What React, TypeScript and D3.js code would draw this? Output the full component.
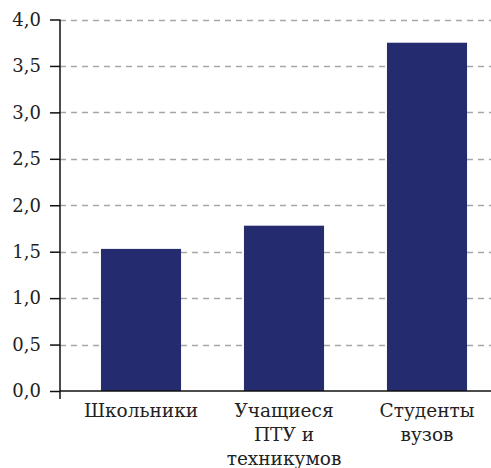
import React, { useEffect, useRef } from 'react';
import * as d3 from 'd3';

const categories = ['Школьники', 'Учащиеся ПТУ и техникумов', 'Студенты вузов'];
const categoryLines = [['Школьники'], ['Учащиеся', 'ПТУ и', 'техникумов'], ['Студенты', 'вузов']];
const values = [1.53, 1.78, 3.75];
const yTicks = [0, 0.5, 1, 1.5, 2, 2.5, 3, 3.5, 4];

export default function App() {
  const svgRef = useRef<SVGSVGElement | null>(null);

  useEffect(() => {
    document.body.style.margin = '0';
    const width = 491;
    const height = 468;
    const axisX = 60;
    const serif = '"DejaVu Serif", serif';

    const svg = d3.select(svgRef.current)
      .attr('width', width)
      .attr('height', height)
      .style('display', 'block')
      .style('background', '#fff');

    svg.selectAll('*').remove();

    const y = d3.scaleLinear()
      .domain([0, 4])
      .range([391, 19.5]);

    const x = d3.scaleBand()
      .domain(categories)
      .range([69.5, 498.5])
      .paddingInner(0.44)
      .paddingOuter(0.22);

    // grid lines
    svg.append('g')
      .selectAll('line')
      .data(yTicks.filter(t => t > 0))
      .join('line')
      .attr('x1', axisX)
      .attr('x2', width)
      .attr('y1', d => Math.round(y(d)) + 0.5)
      .attr('y2', d => Math.round(y(d)) + 0.5)
      .attr('stroke', '#a6a6a6')
      .attr('stroke-width', 1.3)
      .attr('stroke-dasharray', '6,5');

    // bars
    svg.append('g')
      .selectAll('rect')
      .data(values)
      .join('rect')
      .attr('x', (d, i) => x(categories[i])!)
      .attr('y', d => y(d))
      .attr('width', x.bandwidth())
      .attr('height', d => y(0) - y(d))
      .attr('fill', '#252b6f');

    // y axis
    const yAxis = d3.axisLeft(y)
      .tickValues(yTicks)
      .tickSize(10)
      .tickPadding(9)
      .tickFormat(d => d3.format('.1f')(d as number).replace('.', ','));

    const yg = svg.append('g')
      .attr('transform', `translate(${axisX},0)`)
      .call(yAxis);
    yg.select('.domain').remove();
    yg.selectAll('line').attr('stroke', '#111').attr('stroke-width', 1.5);
    yg.selectAll('text')
      .attr('fill', '#222')
      .style('font-family', serif)
      .style('font-size', '18px');

    svg.append('line')
      .attr('x1', axisX)
      .attr('x2', axisX)
      .attr('y1', y(4))
      .attr('y2', y(0) + 8)
      .attr('stroke', '#111')
      .attr('stroke-width', 1.5);

    // x axis line
    svg.append('line')
      .attr('x1', axisX)
      .attr('x2', width)
      .attr('y1', y(0))
      .attr('y2', y(0))
      .attr('stroke', '#111')
      .attr('stroke-width', 1.5);

    // category labels
    const labels = svg.append('g')
      .selectAll('text')
      .data(categories)
      .join('text')
      .attr('x', d => x(d)! + x.bandwidth() / 2)
      .attr('y', 417)
      .attr('text-anchor', 'middle')
      .attr('fill', '#222')
      .style('font-family', serif)
      .style('font-size', '18.5px');

    labels.each(function (d, i) {
      d3.select(this)
        .selectAll('tspan')
        .data(categoryLines[i])
        .join('tspan')
        .attr('x', x(d)! + x.bandwidth() / 2)
        .attr('dy', (_, j) => (j === 0 ? 0 : 24))
        .text(t => t);
    });
  }, []);

  return <svg ref={svgRef}></svg>;
}
